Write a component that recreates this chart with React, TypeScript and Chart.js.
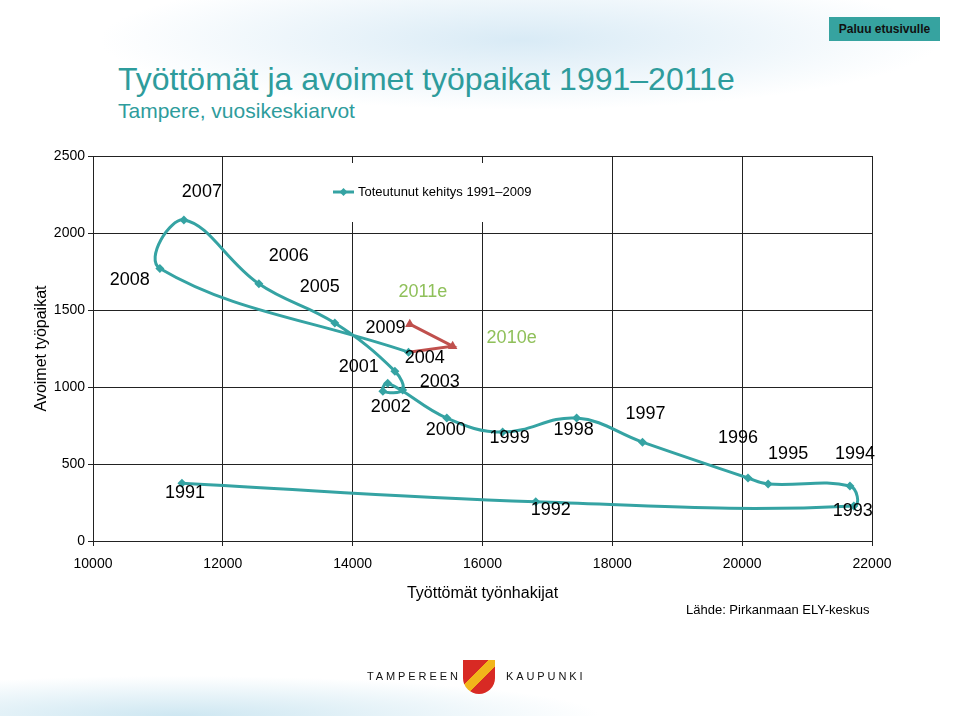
import React, { useEffect, useRef } from "react";
import { Chart, registerables } from "chart.js";

Chart.register(...registerables);

// ---- Data ----
const years = ["1991", "1992", "1993", "1994", "1995", "1996", "1997", "1998", "1999", "2000", "2001", "2002", "2003", "2004", "2005", "2006", "2007", "2008", "2009"];
const unemployed = [11370, 16820, 21720, 21660, 20400, 20090, 18465, 17450, 16310, 15450, 14540, 14465, 14770, 14650, 13725, 12555, 11400, 11030, 14860];
const vacancies = [375, 255, 228, 357, 370, 409, 642, 798, 707, 798, 1025, 973, 980, 1103, 1415, 1670, 2085, 1770, 1226];

const forecastYears = ["2009", "2010e", "2011e"];
const forecastUnemployed = [14860, 15540, 14880];
const forecastVacancies = [1226, 1265, 1408];

const xTicks = [10000, 12000, 14000, 16000, 18000, 20000, 22000];
const yTicks = [0, 500, 1000, 1500, 2000, 2500];

const seriesLabel = "Toteutunut kehitys 1991–2009";
const forecastLabel = "Ennuste 2010e–2011e";

// label placement offsets (pixels from the point), kept apart from data
const labelOffsets: [number, number][] = [
  [3, 10], [15, 8], [-1, 5], [5, -32], [20, -30], [-10, -40], [3, -28], [-3, 12], [7, 6], [-1, 12],
  [-29, -16], [8, 16], [37, -8], [30, -13], [-15, -36], [30, -28], [18, -28], [-30, 12], [-23, -24],
];
const forecastOffsets: [number, number][] = [[0, 0], [59, -8], [13, -32]];

const TEAL = "#35a3a3";
const RED = "#c0504d";
const GREEN = "#8fc05a";
const FONT = "'Liberation Sans', Arial, Helvetica, sans-serif";

const overlayPlugin = {
  id: "overlay",
  beforeDatasetsDraw(chart: any) {
    const ctx = chart.ctx;
    ctx.save();
    // legend box
    ctx.fillStyle = "#ffffff";
    ctx.fillRect(331, 163, 204, 59);
    ctx.strokeStyle = TEAL;
    ctx.lineWidth = 3;
    ctx.beginPath();
    ctx.moveTo(333, 192);
    ctx.lineTo(354, 192);
    ctx.stroke();
    ctx.fillStyle = TEAL;
    ctx.beginPath();
    ctx.moveTo(343.5, 188);
    ctx.lineTo(347.5, 192);
    ctx.lineTo(343.5, 196);
    ctx.lineTo(339.5, 192);
    ctx.closePath();
    ctx.fill();
    ctx.fillStyle = "#000";
    ctx.font = `13px ${FONT}`;
    ctx.textAlign = "left";
    ctx.textBaseline = "middle";
    ctx.fillText(seriesLabel, 358, 192);
    ctx.restore();
  },
  afterDatasetsDraw(chart: any) {
    const ctx = chart.ctx;
    ctx.save();
    ctx.font = `18px ${FONT}`;
    ctx.textAlign = "center";
    ctx.textBaseline = "middle";
    const m0 = chart.getDatasetMeta(0);
    m0.data.forEach((el: any, i: number) => {
      const [dx, dy] = labelOffsets[i] || [0, 0];
      ctx.fillStyle = "#000";
      ctx.fillText(years[i], el.x + dx, el.y + dy);
    });
    const m1 = chart.getDatasetMeta(1);
    m1.data.forEach((el: any, i: number) => {
      if (i === 0) return;
      const [dx, dy] = forecastOffsets[i];
      ctx.fillStyle = GREEN;
      ctx.fillText(forecastYears[i], el.x + dx, el.y + dy);
    });
    ctx.restore();
  },
};

export default function App() {
  const canvasRef = useRef<HTMLCanvasElement | null>(null);

  useEffect(() => {
    const canvas = canvasRef.current;
    if (!canvas) return;
    const chart = new Chart(canvas, {
      type: "scatter",
      data: {
        datasets: [
          {
            label: seriesLabel,
            data: unemployed.map((x, i) => ({ x, y: vacancies[i] })),
            showLine: true,
            borderColor: TEAL,
            backgroundColor: TEAL,
            borderWidth: 3,
            tension: 0.4,
            pointStyle: "rectRot",
            pointRadius: 4.5,
            pointBorderWidth: 0,
            pointBackgroundColor: TEAL,
          },
          {
            label: forecastLabel,
            data: forecastUnemployed.map((x, i) => ({ x, y: forecastVacancies[i] })),
            showLine: true,
            borderColor: RED,
            backgroundColor: RED,
            borderWidth: 3,
            tension: 0,
            pointStyle: "triangle",
            pointRadius: [0, 5.5, 5.5],
            pointBorderWidth: 0,
            pointBackgroundColor: RED,
          },
        ],
      },
      options: {
        animation: false,
        responsive: false,
        layout: { padding: { left: 20, top: 156, right: 88, bottom: 110 } },
        plugins: {
          legend: { display: false },
          tooltip: { enabled: false },
        },
        scales: {
          x: {
            type: "linear",
            min: xTicks[0],
            max: xTicks[xTicks.length - 1],
            afterBuildTicks: (scale: any) => {
              scale.ticks = xTicks.map((v) => ({ value: v }));
            },
            afterFit: (scale: any) => {
              scale.height = 65;
            },
            ticks: {
              color: "#000",
              font: { size: 14, family: FONT },
              padding: 10,
              maxRotation: 0,
              callback: (v: any) => String(v),
            },
            grid: { color: "#222", lineWidth: 1, tickLength: 5, tickColor: "#222" },
            border: { color: "#222", width: 1 },
            title: {
              display: true,
              text: "Työttömät työnhakijat",
              color: "#000",
              font: { size: 16, family: FONT },
              padding: { top: 0, bottom: 3 },
            },
          },
          y: {
            type: "linear",
            min: yTicks[0],
            max: yTicks[yTicks.length - 1],
            afterBuildTicks: (scale: any) => {
              scale.ticks = yTicks.map((v) => ({ value: v }));
            },
            afterFit: (scale: any) => {
              scale.width = 73;
            },
            ticks: {
              color: "#000",
              font: { size: 14, family: FONT },
              padding: 3,
              callback: (v: any) => String(v),
            },
            grid: { color: "#222", lineWidth: 1, tickLength: 5, tickColor: "#222" },
            border: { color: "#222", width: 1 },
            title: {
              display: true,
              text: "Avoimet työpaikat",
              color: "#000",
              font: { size: 16, family: FONT },
              padding: { top: 12, bottom: 0 },
            },
          },
        },
      },
      plugins: [overlayPlugin],
    } as any);
    return () => chart.destroy();
  }, []);

  return (
    <div
      style={{
        position: "absolute",
        left: 0,
        top: 0,
        width: 960,
        height: 716,
        overflow: "hidden",
        fontFamily: FONT,
        background:
          "radial-gradient(ellipse 420px 70px at 520px 40px, rgba(210,231,244,0.85), rgba(255,255,255,0) 100%), radial-gradient(ellipse 420px 40px at 180px 716px, rgba(200,228,240,0.9), rgba(255,255,255,0) 100%), #ffffff",
      }}
    >
      <div style={{ position: "absolute", left: 118, top: 61, fontSize: 32, lineHeight: "36px", color: "#2e9c9c", whiteSpace: "nowrap" }}>
        Työttömät ja avoimet työpaikat 1991–2011e
      </div>
      <div style={{ position: "absolute", left: 118, top: 99, fontSize: 21, lineHeight: "24px", color: "#2e9c9c", whiteSpace: "nowrap" }}>
        Tampere, vuosikeskiarvot
      </div>
      <div
        style={{
          position: "absolute",
          left: 829,
          top: 17,
          width: 111,
          height: 24,
          background: "#36a3a0",
          color: "#111",
          fontWeight: "bold",
          fontSize: 12,
          lineHeight: "24px",
          textAlign: "center",
          whiteSpace: "nowrap",
        }}
      >
        Paluu etusivulle
      </div>
      <canvas
        ref={canvasRef}
        width={960}
        height={716}
        style={{ position: "absolute", left: 0, top: 0, width: 960, height: 716 }}
      />
      <div style={{ position: "absolute", left: 686, top: 602, fontSize: 13, lineHeight: "16px", color: "#000", whiteSpace: "nowrap" }}>
        Lähde: Pirkanmaan ELY-keskus
      </div>
      <div style={{ position: "absolute", left: 367, top: 669, fontSize: 11, lineHeight: "14px", letterSpacing: 2.9, color: "#111", whiteSpace: "nowrap" }}>
        TAMPEREEN
      </div>
      <div style={{ position: "absolute", left: 506, top: 669, fontSize: 11, lineHeight: "14px", letterSpacing: 2.9, color: "#111", whiteSpace: "nowrap" }}>
        KAUPUNKI
      </div>
      <div
        style={{
          position: "absolute",
          left: 463,
          top: 660,
          width: 32,
          height: 34,
          background: "linear-gradient(135deg, #d82a24 0%, #d82a24 38%, #f2b51b 38%, #f2b51b 58%, #d82a24 58%, #d82a24 100%)",
          borderRadius: "0 0 16px 16px",
        }}
      />
    </div>
  );
}
